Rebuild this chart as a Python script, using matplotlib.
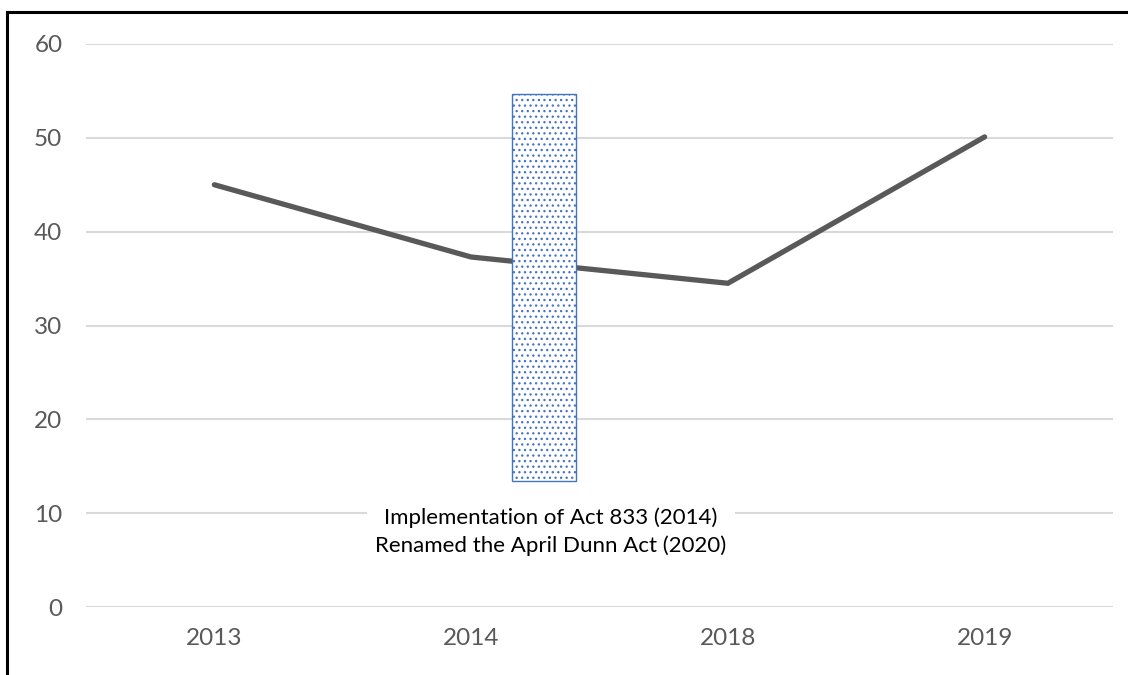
import numpy as np
import matplotlib.pyplot as plt
from matplotlib.patches import Rectangle
from matplotlib.lines import Line2D

plt.rcParams['font.family'] = ['Lato', 'DejaVu Sans']
plt.rcParams['hatch.linewidth'] = 0.9
plt.rcParams['hatch.color'] = '#4472c4'

# Data
years = ['2013', '2014', '2018', '2019']
values = [45.0, 37.3, 34.5, 50.1]

# Shaded band marking when the act came in
band_x = 1.16
band_width = 0.25
band_bottom = 13.4
band_top = 54.7
note = 'Implementation of Act 833 (2014)\nRenamed the April Dunn Act (2020)'

fig = plt.figure(figsize=(11.28, 6.75), dpi=100)
ax = fig.add_axes([86/1128, 1 - 607/675, (1113-86)/1128, (607-44)/675])

x = np.arange(len(years))
ax.plot(x, values, color='#595959', lw=3.8, solid_capstyle='round',
        solid_joinstyle='miter', zorder=3)

ax.add_patch(Rectangle((band_x, band_bottom), band_width, band_top - band_bottom,
                       facecolor='white', edgecolor='#4472c4', lw=1.0,
                       hatch='...', zorder=4))

ax.text(1.31, 8.0, note, ha='center', va='center', fontsize=16,
        linespacing=1.45, color='black', zorder=5,
        bbox=dict(facecolor='white', edgecolor='none', pad=6))

ax.set_xlim(-0.5, 3.5)
ax.set_ylim(0, 60)
ax.set_yticks(range(0, 61, 10))
ax.set_xticks(x)
ax.set_xticklabels(years)
ax.grid(axis='y', color='#d9d9d9', lw=1.5, zorder=0)
ax.tick_params(length=0, labelsize=17.5, colors='#595959')
ax.tick_params(axis='y', pad=17)
ax.tick_params(axis='x', pad=15)
for s in ax.spines.values():
    s.set_visible(False)

# Frame around the chart (only left and top edges fall in view)
fig.add_artist(Line2D([7/1128, 7/1128], [0, 1 - 12/675], color='black', lw=2.2,
                      transform=fig.transFigure))
fig.add_artist(Line2D([7/1128, 1], [1 - 12/675, 1 - 12/675], color='black', lw=2.2,
                      transform=fig.transFigure))

fig.savefig('out.png', dpi=100)
